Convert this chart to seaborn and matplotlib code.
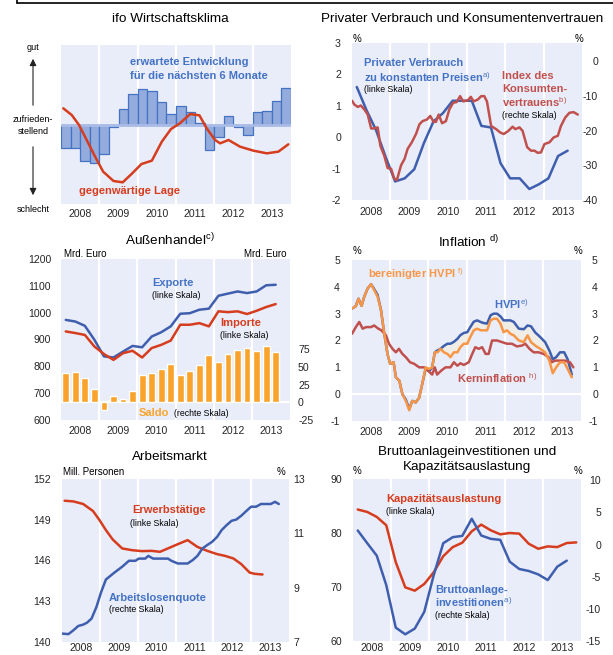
import numpy as np
import pandas as pd
import matplotlib
matplotlib.use('Agg')
import matplotlib.pyplot as plt
from matplotlib.lines import Line2D
import seaborn as sns

# ---------------- data ----------------
years = [2008, 2009, 2010, 2011, 2012, 2013]

# ifo Wirtschaftsklima (index, 0 = zufriedenstellend)
ifo_quarters = pd.period_range('2008Q1', '2013Q4', freq='Q')
ifo_erwartung = [-0.68, -0.68, -1.08, -1.13, -0.88, -0.05, 0.48, 0.92,
                 1.07, 1.02, 0.68, 0.33, 0.57, 0.38, 0.05, -0.75,
                 -0.35, 0.28, -0.05, -0.31, 0.38, 0.43, 0.73, 1.12]
ifo_lage_t = [2008.06, 2008.28, 2008.47, 2008.67, 2008.89, 2009.10, 2009.37, 2009.61,
              2009.84, 2010.10, 2010.37, 2010.63, 2010.87, 2011.10, 2011.37, 2011.61,
              2011.80, 2012.02, 2012.15, 2012.37, 2012.67, 2013.02, 2013.37, 2013.67, 2013.93]
ifo_lage = [0.50, 0.30, 0.0, -0.45, -0.95, -1.40, -1.68, -1.72,
            -1.47, -1.17, -1.07, -0.50, -0.12, 0.05, 0.33, 0.29,
            -0.10, -0.45, -0.55, -0.45, -0.65, -0.77, -0.85, -0.80, -0.58]

# Privater Verbrauch (% , linke Skala) und Konsumentenvertrauen (rechte Skala)
pv_quarters = pd.period_range('2008Q1', '2013Q3', freq='Q')
pv_verbrauch = [1.6, 0.87, 0.23, -0.62, -1.41, -1.31, -1.02, -0.19, 0.5, 0.77, 1.16, 1.16,
                1.16, 0.36, 0.31, -0.83, -1.31, -1.31, -1.65, -1.5, -1.31, -0.6, -0.43]
kv_t = [2008.00, 2008.06, 2008.15, 2008.23, 2008.32, 2008.41, 2008.50, 2008.57, 2008.67,
        2008.74, 2008.84, 2008.93, 2009.02, 2009.10, 2009.17, 2009.28, 2009.37, 2009.45,
        2009.56, 2009.67, 2009.76, 2009.84, 2009.96, 2010.04, 2010.13, 2010.19, 2010.26,
        2010.35, 2010.45, 2010.54, 2010.64, 2010.73, 2010.82, 2010.90, 2011.02, 2011.10,
        2011.17, 2011.28, 2011.37, 2011.45, 2011.52, 2011.63, 2011.76, 2011.87, 2011.96,
        2012.08, 2012.19, 2012.26, 2012.37, 2012.45, 2012.57, 2012.67, 2012.76, 2012.84,
        2012.93, 2013.02, 2013.15, 2013.26, 2013.37, 2013.45, 2013.56, 2013.67, 2013.78, 2013.89]
kv_index = [-11.4, -12.5, -13.2, -12.8, -13.9, -15.4, -19.4, -19.4, -19.1,
            -24.4, -27.2, -30.8, -31.0, -33.8, -34.3, -30.0, -28.2, -25.3,
            -23.4, -21.0, -18.2, -17.3, -16.8, -15.8, -17.5, -17.5, -15.4,
            -17.9, -17.3, -13.9, -12.0, -11.8, -10.1, -11.6, -11.3, -10.3,
            -11.6, -11.1, -10.1, -10.1, -11.6, -18.7, -19.6, -20.6, -21.0,
            -20.1, -18.9, -19.6, -19.1, -20.1, -24.8, -25.8, -25.8, -26.4,
            -26.3, -23.9, -23.4, -22.0, -21.5, -18.7, -16.3, -14.9, -14.7, -15.4]

# Außenhandel (Mrd. Euro)
ah_quarters = pd.period_range('2008Q1', '2013Q3', freq='Q')
ah_exporte = [973, 967, 951, 899, 837, 833, 855, 876, 871, 911, 927, 949,
              996, 998, 1011, 1015, 1063, 1071, 1079, 1073, 1079, 1102, 1104]
ah_importe = [930, 924, 917, 874, 846, 824, 849, 858, 833, 868, 880, 896,
              955, 955, 961, 949, 1005, 1002, 1005, 995, 1007, 1021, 1032]
ah_saldo = [41.8, 43.2, 34.6, 19.5, -11.4, 9.5, 4.7, 15.7, 38.4, 41.8, 47.9, 53.6,
            39.4, 44.1, 52.2, 66.9, 57.4, 68.8, 74.0, 77.4, 72.6, 79.7, 71.7]

# Inflation (%)
hvpi_t = [2008.00, 2008.10, 2008.17, 2008.25, 2008.32, 2008.41, 2008.50, 2008.58, 2008.67,
          2008.76, 2008.84, 2008.93, 2009.00, 2009.09, 2009.15, 2009.24, 2009.32, 2009.41,
          2009.50, 2009.58, 2009.67, 2009.76, 2009.84, 2009.93, 2010.02, 2010.10, 2010.17,
          2010.24, 2010.32, 2010.41, 2010.50, 2010.58, 2010.67, 2010.76, 2010.84, 2010.93,
          2011.02, 2011.10, 2011.19, 2011.28, 2011.37, 2011.45, 2011.54, 2011.63, 2011.71,
          2011.80, 2011.89, 2011.97, 2012.06, 2012.15, 2012.24, 2012.37, 2012.50, 2012.60,
          2012.69, 2012.80, 2012.93, 2013.06, 2013.17, 2013.26, 2013.35, 2013.45, 2013.56,
          2013.65, 2013.76]
hvpi_bereinigt = [3.19, 3.28, 3.56, 3.29, 3.63, 3.94, 4.10, 3.88, 3.63,
                  3.13, 2.31, 1.50, 1.13, 1.19, 0.63, 0.50, 0.0, -0.25,
                  -0.60, -0.25, -0.31, -0.13, 0.38, 1.0, 0.94, 1.0, 1.56,
                  1.56, 1.69, 1.56, 1.50, 1.38, 1.56, 1.56, 1.75, 1.88,
                  1.88, 2.13, 2.38, 2.44, 2.38, 2.38, 2.38, 2.75, 2.81,
                  2.81, 2.63, 2.31, 2.38, 2.25, 2.19, 2.0, 1.94, 2.19,
                  1.94, 1.81, 1.69, 1.56, 1.25, 0.78, 1.0, 1.19, 1.19,
                  0.94, 0.63]
hvpi = [3.19, 3.28, 3.56, 3.29, 3.63, 3.94, 4.10, 3.92, 3.70,
        3.13, 2.31, 1.50, 1.13, 1.19, 0.63, 0.50, 0.0, -0.20,
        -0.55, -0.25, -0.31, -0.13, 0.38, 0.95, 0.85, 1.0, 1.56,
        1.63, 1.69, 1.80, 1.88, 1.88, 1.95, 2.06, 2.20, 2.28,
        2.31, 2.50, 2.70, 2.75, 2.69, 2.65, 2.63, 2.94, 3.0,
        3.0, 2.90, 2.75, 2.75, 2.75, 2.69, 2.44, 2.42, 2.56,
        2.53, 2.30, 2.13, 1.94, 1.63, 1.30, 1.38, 1.56, 1.56,
        1.30, 0.73]
kern_t = [2008.00, 2008.10, 2008.19, 2008.28, 2008.37, 2008.50, 2008.58, 2008.69, 2008.77,
          2008.89, 2008.97, 2009.06, 2009.15, 2009.23, 2009.32, 2009.41, 2009.52, 2009.63,
          2009.76, 2009.89, 2009.99, 2010.10, 2010.17, 2010.23, 2010.34, 2010.45, 2010.58,
          2010.67, 2010.76, 2010.84, 2010.93, 2011.06, 2011.15, 2011.23, 2011.32, 2011.41,
          2011.50, 2011.58, 2011.67, 2011.80, 2011.93, 2012.06, 2012.19, 2012.32, 2012.45,
          2012.54, 2012.65, 2012.76, 2012.89, 2013.02, 2013.15, 2013.23, 2013.32, 2013.45,
          2013.58, 2013.71, 2013.80]
kern = [2.25, 2.5, 2.69, 2.44, 2.5, 2.5, 2.56, 2.44, 2.38,
        2.19, 1.88, 1.69, 1.56, 1.69, 1.5, 1.38, 1.19, 1.13,
        1.0, 1.0, 0.88, 0.73, 1.0, 0.73, 0.88, 1.0, 1.0,
        1.19, 1.06, 1.15, 1.09, 1.19, 1.5, 1.75, 1.69, 1.75,
        1.5, 1.5, 2.0, 2.0, 1.94, 1.88, 1.88, 1.78, 1.81,
        1.88, 1.69, 1.56, 1.56, 1.5, 1.38, 1.19, 1.25, 1.25,
        1.25, 1.19, 1.0]

# Arbeitsmarkt
erw_t = [2008.07, 2008.30, 2008.56, 2008.82, 2008.99, 2009.16, 2009.34, 2009.59,
         2009.85, 2010.11, 2010.37, 2010.59, 2010.80, 2011.06, 2011.32, 2011.58,
         2011.84, 2012.10, 2012.31, 2012.53, 2012.74, 2012.96, 2013.09, 2013.30]
erw = [150.40, 150.35, 150.16, 149.64, 148.98, 148.24, 147.55, 146.89,
       146.76, 146.69, 146.71, 146.64, 146.89, 147.20, 147.50, 147.00,
       146.71, 146.47, 146.34, 146.15, 145.73, 145.11, 145.02, 144.97]
alq_t = [2008.00, 2008.17, 2008.30, 2008.43, 2008.56, 2008.66, 2008.78, 2008.91, 2009.03,
         2009.16, 2009.38, 2009.59, 2009.77, 2009.94, 2010.03, 2010.20, 2010.28, 2010.41,
         2010.54, 2010.80, 2010.89, 2011.06, 2011.32, 2011.45, 2011.58, 2011.71, 2011.84,
         2011.97, 2012.10, 2012.22, 2012.35, 2012.48, 2012.61, 2012.74, 2012.87, 2013.00,
         2013.13, 2013.26, 2013.52, 2013.63, 2013.73]
alq = [7.31, 7.29, 7.43, 7.59, 7.64, 7.71, 7.86, 8.29, 8.82,
       9.30, 9.55, 9.77, 9.99, 9.99, 10.07, 10.07, 10.17, 10.07,
       10.07, 10.07, 9.99, 9.89, 9.89, 10.01, 10.17, 10.44, 10.57,
       10.69, 10.87, 11.12, 11.30, 11.46, 11.51, 11.65, 11.82, 11.98,
       11.98, 12.08, 12.08, 12.16, 12.08]

# Bruttoanlageinvestitionen und Kapazitätsauslastung
kap_quarters = pd.period_range('2008Q1', '2013Q4', freq='Q')
kap = [84.35, 83.9, 82.98, 81.43, 74.6, 69.94, 69.32, 70.56, 72.73, 75.71, 77.39, 78.2,
       80.31, 81.55, 80.5, 79.75, 80.0, 79.88, 78.01, 77.08, 77.52, 77.39, 78.14, 78.26]
inv_quarters = pd.period_range('2008Q1', '2013Q3', freq='Q')
inv = [2.19, 0.21, -1.72, -6.3, -12.92, -13.96, -13.07, -10.47, -4.74, 0.21, 1.15, 1.35,
       4.01, 1.41, 0.89, 0.73, -2.66, -3.80, -4.11, -4.64, -5.52, -3.44, -2.5]

# ---------------- style ----------------
W, H = 613, 655
BG = '#E9EDF9'
BLUE = '#3F5FAE'
BLUE_T = '#4472C4'
RED = '#D63C1E'
RED2 = '#C0504D'
ORANGE = '#F79646'
SALDO = '#F9A32C'
TICK = 7.6
TITLE = 9.7
LAB = 8
SMALL = 6.3

sns.set_style('white')
plt.rcParams['font.family'] = ['Liberation Sans', 'DejaVu Sans']
plt.rcParams['mathtext.fontset'] = 'custom'
plt.rcParams['mathtext.rm'] = 'Liberation Sans'

fig = plt.figure(figsize=(W / 100, H / 100), dpi=100)


def qpos(periods):
    return np.asarray(periods.year + (periods.quarter - 1) / 4 + 0.125, dtype=float)


def rect(x0, y0, x1, y1):
    return [x0 / W, 1 - y1 / H, (x1 - x0) / W, (y1 - y0) / H]


def txt(x, y, s, color='black', size=LAB, weight='bold', ha='left', va='center'):
    fig.text(x / W, 1 - y / H, s, color=color, fontsize=size, fontweight=weight, ha=ha, va=va)


def panel(box):
    bg = fig.add_axes(rect(*box), zorder=0)
    bg.set_facecolor(BG)
    bg.set_xlim(2008, 2014)
    for y in years[1:]:
        bg.axvline(y, color='white', lw=1.6)
    bg.set_xticks([])
    bg.set_yticks([])
    ax = fig.add_axes(rect(*box), zorder=2)
    ax.patch.set_visible(False)
    for a in (bg, ax):
        for s in a.spines.values():
            s.set_visible(False)
    return ax


def finish(ax, xpad):
    ax.set_xlim(2008, 2014)
    ax.set_xticks([y + 0.5 for y in years])
    ax.set_xticklabels([str(y) for y in years])
    ax.tick_params(axis='x', length=0, pad=xpad, labelsize=TICK)
    ax.set_xlabel('')
    ax.set_ylabel('')


def right_axis(ax, lim, ticks, pad, ha='left', z=3):
    tw = ax.twinx()
    tw.set_zorder(z)
    tw.patch.set_visible(False)
    for s in tw.spines.values():
        s.set_visible(False)
    tw.set_ylim(*lim)
    tw.set_yticks(ticks)
    tw.set_yticklabels([str(t) for t in ticks])
    tw.tick_params(axis='y', length=0, pad=pad, labelsize=TICK)
    plt.setp(tw.get_yticklabels(), ha=ha)
    tw.set_ylabel('')
    return tw


def left_ticks(ax, lim, ticks, pad):
    ax.set_ylim(*lim)
    ax.set_yticks(ticks)
    ax.set_yticklabels([str(t) for t in ticks])
    ax.tick_params(axis='y', length=0, pad=pad, labelsize=TICK)


def line(ax, x, y, color, lw=1.8, z=3):
    sns.lineplot(x=np.asarray(x, dtype=float), y=y, ax=ax, color=color, linewidth=lw,
                 errorbar=None, zorder=z)


def arrow(y0, y1):
    fig.add_artist(matplotlib.patches.FancyArrowPatch(
        (33 / W, 1 - y0 / H), (33 / W, 1 - y1 / H), transform=fig.transFigure,
        arrowstyle='-|>,head_length=4,head_width=2', color='#222222', lw=0.8))


# ---------------- ifo Wirtschaftsklima ----------------
ax = panel((61, 45, 291, 204))
sns.barplot(x=qpos(ifo_quarters), y=ifo_erwartung, native_scale=True, width=1.0, orient='v',
            color='#93ACDD', edgecolor=BLUE_T, linewidth=0.9, saturation=1, errorbar=None, ax=ax)
ax.axhline(0, color='#A9BCE6', lw=2, zorder=1.5)
line(ax, ifo_lage_t, ifo_lage, RED)
ax.set_ylim(-2.37, 2.40)
ax.set_yticks([])
finish(ax, 3.8)

txt(170, 19, 'ifo Wirtschaftsklima', size=TITLE, weight='normal', ha='center')
txt(33, 47, 'gut', size=6.5, weight='normal', ha='center')
txt(33, 120, 'zufrieden-', size=6.5, weight='normal', ha='center')
txt(33, 132, 'stellend', size=6.5, weight='normal', ha='center')
txt(33, 209, 'schlecht', size=6.5, weight='normal', ha='center')
arrow(108, 56)
arrow(144, 198)
txt(130, 62, 'erwartete Entwicklung', BLUE_T)
txt(130, 76, 'für die nächsten 6 Monate', BLUE_T)
txt(79, 191, 'gegenwärtige Lage', RED)

# ---------------- Privater Verbrauch ----------------
ax = panel((352, 43, 582, 200))
line(ax, qpos(pv_quarters), pv_verbrauch, BLUE)
left_ticks(ax, (-2, 3), [-2, -1, 0, 1, 2, 3], 8)
tw = right_axis(ax, (-40, 5.2), [-40, -30, -20, -10, 0], 11.5, ha='right')
line(tw, kv_t, kv_index, RED2)
tw.set_ylim(-40, 5.2)
finish(ax, 5.3)

txt(462, 19, 'Privater Verbrauch und Konsumentenvertrauen', size=TITLE, weight='normal', ha='center')
txt(357, 39, '%', size=7, weight='normal', ha='center')
txt(579, 39, '%', size=7, weight='normal', ha='center')
txt(364, 63, 'Privater Verbrauch', BLUE_T)
txt(364, 77, r'zu konstanten Preisen$^{\mathrm{a)}}$', BLUE_T)
txt(364, 90, '(linke Skala)', size=SMALL, weight='normal')
txt(502, 76, 'Index des', RED2)
txt(502, 89, 'Konsumten-', RED2)
txt(502, 102, r'vertrauens$^{\mathrm{b)}}$', RED2)
txt(502, 115, '(rechte Skala)', size=SMALL, weight='normal')

# ---------------- Außenhandel ----------------
ax = panel((61, 259, 290, 420))
left_ticks(ax, (600, 1200), [600, 700, 800, 900, 1000, 1100, 1200], 7.2)
tw = right_axis(ax, (-25, 203), [-25, 0, 25, 50, 75], 5.8, ha='left', z=1)
tw.axhline(0, color='white', lw=1.6, zorder=0.5)
sns.barplot(x=qpos(ah_quarters), y=ah_saldo, native_scale=True, width=0.72, orient='v',
            color=SALDO, saturation=1, errorbar=None, ax=tw)
tw.set_ylim(-25, 203)
tw.set_yticks([-25, 0, 25, 50, 75])
line(ax, qpos(ah_quarters), ah_exporte, BLUE)
line(ax, qpos(ah_quarters), ah_importe, RED)
finish(ax, 4.6)
tw.set_xlim(2008, 2014)

txt(170, 240, r'Außenhandel$^{\mathrm{c)}}$', size=TITLE, weight='normal', ha='center')
txt(64, 254, 'Mrd. Euro', size=7, weight='normal')
txt(286, 254, 'Mrd. Euro', size=7, weight='normal', ha='right')
txt(152, 283, 'Exporte', BLUE_T)
txt(152, 296, '(linke Skala)', size=SMALL, weight='normal')
txt(220, 323, 'Importe', RED)
txt(220, 335, '(linke Skala)', size=SMALL, weight='normal')
txt(139, 413, 'Saldo', SALDO)
txt(174, 414, '(rechte Skala)', size=SMALL, weight='normal')

# ---------------- Inflation ----------------
ax = panel((352, 260, 581, 421))
ax.axhline(0, color='white', lw=1.6, zorder=0.5)
ax.fill_between(hvpi_t, hvpi, hvpi_bereinigt, color='#EFEDE6', lw=0, zorder=1)
line(ax, hvpi_t, hvpi, BLUE)
line(ax, kern_t, kern, RED2)
line(ax, hvpi_t, hvpi_bereinigt, ORANGE)
left_ticks(ax, (-1, 5), [-1, 0, 1, 2, 3, 4, 5], 8.6)
tw = right_axis(ax, (-1, 5), [-1, 0, 1, 2, 3, 4, 5], 12.2, ha='right')
finish(ax, 4)

txt(469, 242, r'Inflation $^{\mathrm{d)}}$', size=TITLE, weight='normal', ha='center')
txt(357, 251, '%', size=7, weight='normal', ha='center')
txt(578, 251, '%', size=7, weight='normal', ha='center')
txt(368, 274, r'bereinigter HVPI $^{\mathrm{f)}}$', ORANGE)
txt(494, 304, r'HVPI$^{\mathrm{e)}}$', BLUE_T)
txt(457, 378, r'Kerninflation $^{\mathrm{h)}}$', RED2)

# ---------------- Arbeitsmarkt ----------------
ax = panel((62, 479, 289, 642))
line(ax, erw_t, erw, RED)
left_ticks(ax, (140, 152), [140, 143, 146, 149, 152], 7.9)
tw = right_axis(ax, (7, 13), [7, 9, 11, 13], 2.9, ha='left')
line(tw, alq_t, alq, BLUE)
tw.set_ylim(7, 13)
finish(ax, 0.8)

txt(170, 457, 'Arbeitsmarkt', size=TITLE, weight='normal', ha='center')
txt(63, 472, 'Mill. Personen', size=7, weight='normal')
txt(285, 472, '%', size=7, weight='normal', ha='right')
txt(132, 510, 'Erwerbstätige', RED)
txt(130, 524, '(linke Skala)', size=SMALL, weight='normal')
txt(109, 598, 'Arbeitslosenquote', BLUE_T)
txt(109, 610, '(rechte Skala)', size=SMALL, weight='normal')

# ---------------- Bruttoanlageinvestitionen ----------------
ax = panel((353, 479, 581, 641))
line(ax, qpos(kap_quarters), kap, RED)
left_ticks(ax, (60, 90), [60, 70, 80, 90], 7.9)
tw = right_axis(ax, (-15, 10.2), [-15, -10, -5, 0, 5, 10], 14.4, ha='right')
line(tw, qpos(inv_quarters), inv, BLUE)
tw.set_ylim(-15, 10.2)
finish(ax, 1.2)

txt(467, 452, 'Bruttoanlageinvestitionen und', size=TITLE, weight='normal', ha='center')
txt(467, 467, 'Kapazitätsauslastung', size=TITLE, weight='normal', ha='center')
txt(357, 471, '%', size=7, weight='normal', ha='center')
txt(578, 471, '%', size=7, weight='normal', ha='center')
txt(386, 499, 'Kapazitätsauslastung', RED)
txt(386, 512, '(linke Skala)', size=SMALL, weight='normal')
txt(435, 590, 'Bruttoanlage-', BLUE_T)
txt(435, 602, r'investitionen$^{\mathrm{a)}}$', BLUE_T)
txt(435, 615, '(rechte Skala)', size=SMALL, weight='normal')

# frame edge at the top
fig.add_artist(Line2D([17 / W, 1], [1 - 3 / H, 1 - 3 / H], color='black', lw=1.2))
fig.add_artist(Line2D([17 / W, 17 / W], [1, 1 - 3 / H], color='black', lw=1.2))

fig.savefig('out.png', dpi=100)
